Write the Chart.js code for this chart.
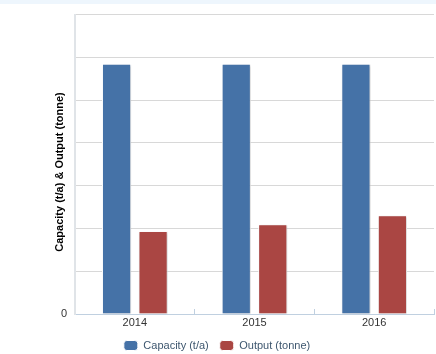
<!DOCTYPE html>
<html>
<head>
<meta charset="utf-8">
<script src="https://cdn.jsdelivr.net/npm/chart.js@4.4.1/dist/chart.umd.min.js"></script>
<style>
  html, body { margin: 0; padding: 0; }
  body { background: linear-gradient(#eef6fd 0, #eef6fd 4px, #ffffff 4px); }
  #wrap { width: 436px; height: 354px; position: relative; }
</style>
</head>
<body>
<div id="wrap"><canvas id="grafico"></canvas></div>
<script>
const anos = ["2014", "2015", "2016"];
const capacidade = [58.5, 58.5, 58.5];  // Capacity (t/a)
const producao = [19.4, 21, 23.1];      // Output (tonne)
const yMax = 70;
const yPasso = 10;

const fonte = '"Liberation Sans", Arial, sans-serif';

// sombra leve nas barras, como no original
const sombraBarras = {
  id: "sombraBarras",
  beforeDatasetsDraw(chart) {
    const ctx = chart.ctx;
    ctx.save();
    ctx.shadowColor = "rgba(0,0,0,0.18)";
    ctx.shadowOffsetX = 1;
    ctx.shadowOffsetY = 1;
    ctx.shadowBlur = 2;
  },
  afterDatasetsDraw(chart) {
    chart.ctx.restore();
  },
};

// título do eixo Y desenhado à mão para acertar a posição
const tituloY = {
  id: "tituloY",
  afterDraw(chart) {
    const ctx = chart.ctx;
    ctx.save();
    ctx.translate(60, 172);
    ctx.rotate(-Math.PI / 2);
    ctx.font = "bold 11px " + fonte;
    ctx.fillStyle = "#000000";
    ctx.textAlign = "center";
    ctx.textBaseline = "middle";
    ctx.fillText("Capacity (t/a) & Output (tonne)", 0, 0);
    ctx.restore();
  },
};

const ctx = document.getElementById("grafico").getContext("2d");
new Chart(ctx, {
  type: "bar",
  data: {
    labels: anos,
    datasets: [
      {
        label: "Capacity (t/a)",
        data: capacidade,
        backgroundColor: "#4572A7",
        borderColor: "#ffffff",
        borderWidth: 1,
      },
      {
        label: "Output (tonne)",
        data: producao,
        backgroundColor: "#AA4643",
        borderColor: "#ffffff",
        borderWidth: 1,
      },
    ],
  },
  options: {
    responsive: true,
    maintainAspectRatio: false,
    animation: false,
    datasets: {
      bar: { categoryPercentage: 0.61, barPercentage: 0.8 },
    },
    layout: { padding: { top: 13, right: 2, left: 0, bottom: -7 } },
    plugins: {
      tooltip: { enabled: false },
      legend: {
        position: "bottom",
        labels: {
          font: { family: fonte, size: 11 },
          color: "#3E576F",
          boxWidth: 14,
          boxHeight: 10,
          useBorderRadius: true,
          borderRadius: 3,
          padding: 11,
        },
      },
    },
    scales: {
      x: {
        offset: true,
        grid: {
          offset: true,
          drawOnChartArea: false,
          drawTicks: true,
          tickLength: -5,
          color: "#C0D0E0",
        },
        border: { color: "#C0D0E0", width: 1 },
        ticks: {
          font: { family: fonte, size: 11 },
          color: "#333333",
          padding: 7,
        },
        afterFit(scale) {
          scale.height = 15;
        },
      },
      y: {
        min: 0,
        max: yMax,
        ticks: {
          stepSize: yPasso,
          padding: 8,
          font: { family: fonte, size: 11 },
          color: "#333333",
          callback: (v) => (v === 0 ? "0" : ""),
        },
        grid: { color: "#D8D8D8", drawTicks: false },
        border: { color: "#E0E4E8", width: 2 },
        afterFit(scale) {
          scale.width = 75;
        },
      },
    },
  },
  plugins: [sombraBarras, tituloY],
});
</script>
</body>
</html>
